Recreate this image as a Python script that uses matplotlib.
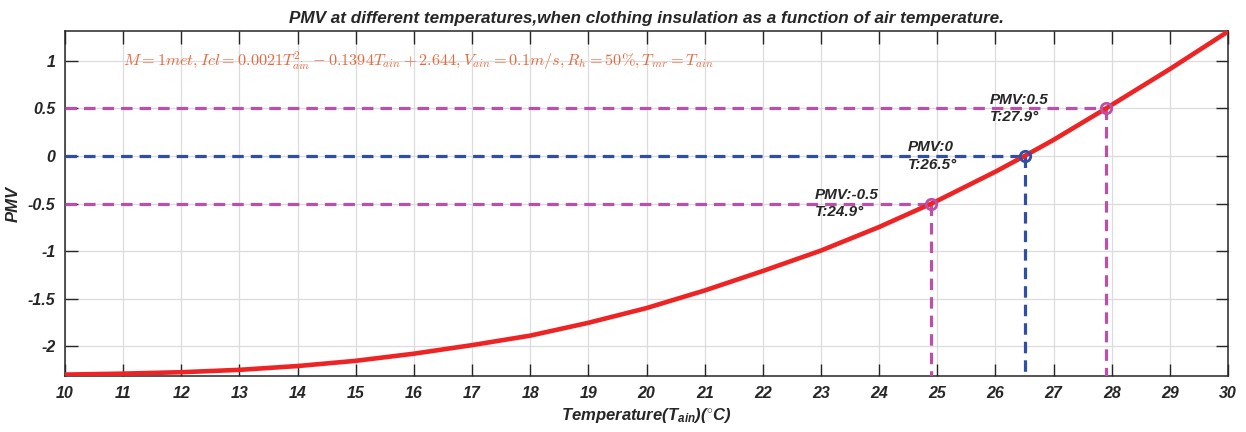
import matplotlib
matplotlib.use('Agg')
import matplotlib.pyplot as plt
import numpy as np

# PMV curve (integer temperatures)
temps = [10, 11, 12, 13, 14, 15, 16, 17, 18, 19, 20,
         21, 22, 23, 24, 25, 26, 27, 28, 29, 30]
pmv = [-2.30, -2.29, -2.275, -2.25, -2.21, -2.155, -2.08, -1.99, -1.89, -1.755, -1.60,
       -1.415, -1.21, -0.995, -0.747, -0.471, -0.165, 0.17, 0.538, 0.915, 1.31]

# marked comfort points
mark_T = [24.9, 26.5, 27.9]
mark_pmv = [-0.5, 0.0, 0.5]
mark_labels = ['PMV:-0.5\nT:24.9°', 'PMV:0\nT:26.5°', 'PMV:0.5\nT:27.9°']
mark_colors = ['#BC4FA8', '#2F4EA6', '#BC4FA8']

formula = (r'$M=1met,Icl=0.0021T_{ain}^{2}-0.1394T_{ain}+2.644,'
           r'V_{ain}=0.1m/s,R_{h}=50\%,T_{mr}=T_{ain}$')

plt.rcParams['font.family'] = ['Liberation Sans', 'DejaVu Sans']
plt.rcParams['font.weight'] = 'bold'
plt.rcParams['font.style'] = 'italic'
plt.rcParams['axes.labelweight'] = 'bold'
plt.rcParams['axes.titleweight'] = 'bold'
plt.rcParams['mathtext.fontset'] = 'custom'
plt.rcParams['mathtext.rm'] = 'Liberation Sans:bold:italic'
plt.rcParams['mathtext.it'] = 'Liberation Sans:bold:italic'
plt.rcParams['mathtext.bf'] = 'Liberation Sans:bold:italic'

TXT = '#262626'
YMIN, YMAX = -2.315, 1.315

fig = plt.figure(figsize=(12.46, 4.32), dpi=100)
ax = fig.add_axes([0.0522, 0.1296, 0.9334, 0.7986])

# merge marked points into curve so line passes through them
T_all = np.array(temps + mark_T, dtype=float)
P_all = np.array(pmv + mark_pmv, dtype=float)
order = np.argsort(T_all)

for t, p, c in zip(mark_T, mark_pmv, mark_colors):
    ax.plot([10, t], [p, p], color=c, lw=2.3, dashes=(3.6, 2.2), zorder=3)
    ax.plot([t, t], [p, YMIN], color=c, lw=2.3, dashes=(3.6, 2.2), zorder=3)

ax.plot(T_all[order], P_all[order], color='#EE2424', lw=3.3, zorder=4,
        solid_capstyle='butt', solid_joinstyle='round')

for t, p, c, lab in zip(mark_T, mark_pmv, mark_colors, mark_labels):
    ax.plot(t, p, 'o', ms=7.5, mfc='none', mec=c, mew=2.0, zorder=5)
    ax.text(t - 2.0, p, lab, fontsize=11, color=TXT, ha='left', va='center',
            fontweight='bold', fontstyle='italic', linespacing=1.3, zorder=6)

ax.text(11.0, 1.0, formula, fontsize=11.7, color='#E8693F', ha='left', va='center',
        math_fontfamily='cm')

ax.set_xlim(10, 30)
ax.set_ylim(YMIN, YMAX)
ax.set_xticks(range(10, 31))
ax.set_yticks([-2, -1.5, -1, -0.5, 0, 0.5, 1])
ax.set_yticklabels(['-2', '-1.5', '-1', '-0.5', '0', '0.5', '1'])

ax.grid(True, color='#DCDCDC', lw=0.9)
ax.set_axisbelow(True)
ax.tick_params(direction='in', length=9, width=1.0, colors=TXT, labelsize=11.5,
               top=True, right=True, pad=7)
for lab in ax.get_xticklabels() + ax.get_yticklabels():
    lab.set_fontweight('bold')
    lab.set_fontstyle('italic')
for s in ax.spines.values():
    s.set_color(TXT)
    s.set_linewidth(1.1)

ax.set_title('PMV at different temperatures,when clothing insulation as a function of air temperature.',
             fontsize=12.3, fontweight='bold', fontstyle='italic', color=TXT, pad=6)
ax.set_xlabel('Temperature(T$_{ain}$)($^{\\circ}$C)', fontsize=12, fontweight='bold',
              color=TXT, labelpad=4)
ax.set_ylabel('PMV', fontsize=12, fontweight='bold', color=TXT, labelpad=5)

fig.savefig('out.png', dpi=100)
